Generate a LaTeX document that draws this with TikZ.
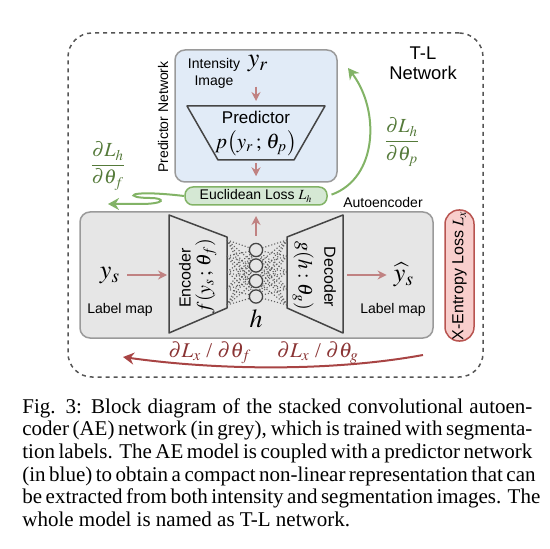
\documentclass[tikz,border=0pt]{standalone}
\usepackage{amsmath}
\usepackage{mathptmx}
\usepackage{fontspec}
\setmainfont{Liberation Serif}
\setsansfont{Liberation Sans}
\usetikzlibrary{arrows.meta, positioning}

\definecolor{predblue}{HTML}{E1EBF7}
\definecolor{aegrey}{HTML}{E6E6E6}
\definecolor{lossgreen}{HTML}{D5E8D4}
\definecolor{greenline}{HTML}{82B366}
\definecolor{gradgreen}{HTML}{557A3A}
\definecolor{xentred}{HTML}{F8CECC}
\definecolor{redline}{HTML}{B85450}
\definecolor{flowred}{HTML}{C08282}
\definecolor{backred}{HTML}{A84444}
\definecolor{gradred}{HTML}{8A3434}
\definecolor{boxline}{HTML}{9A9A9A}
\definecolor{trapline}{HTML}{454545}
\definecolor{wiregrey}{HTML}{5F5F5F}
\definecolor{dashgrey}{HTML}{555555}

\begin{document}
\begin{tikzpicture}[x=0.5pt,y=-0.5pt,
    lbl/.style={font=\sffamily\fontsize{7}{8.5}\selectfont, inner sep=0pt},
    sym/.style={font=\fontsize{13}{15}\selectfont, inner sep=0pt},
    fn/.style={font=\fontsize{10}{12}\selectfont, inner sep=0pt},
    block/.style={draw=boxline, line width=0.75pt, rounded corners=5pt, inner sep=0pt},
    coder/.style={draw=trapline, line width=0.75pt, line join=round},
    neuron/.style={circle, draw=trapline, line width=0.65pt, minimum size=6.6pt, inner sep=0pt},
    wire/.style={draw=wiregrey, densely dotted, line width=0.55pt},
    flow/.style={draw=flowred, line width=1pt, -{Stealth[length=4.5pt,width=4.5pt]}},
    grad/.style={draw=greenline, line width=1pt, -{Stealth[length=5.5pt,width=6pt]}},
    back/.style={draw=backred, line width=1pt, -{Stealth[length=5.5pt,width=6pt]}},
    capline/.style={anchor=base west, inner sep=0pt, font=\rmfamily\fontsize{10.5}{12}\selectfont}]
  \useasboundingbox (0,0) rectangle (549,549);

  % boxes
  \node[draw=dashgrey, dash pattern=on 2pt off 2pt, line width=0.75pt, rounded corners=12pt,
        minimum width=207.5pt, minimum height=172pt, inner sep=0pt] (tl_net) at (275.5,205) {};
  \node[block, fill=predblue, minimum width=81pt, minimum height=66pt] (pred_net) at (256,116) {};
  \node[block, draw=greenline, fill=lossgreen, rounded corners=4pt, minimum width=71pt, minimum height=9pt,
        font=\sffamily\fontsize{7}{8}\selectfont] (loss) at (256,196) {Euclidean Loss $L_h$};
  \node[block, fill=aegrey, minimum width=176.5pt, minimum height=63pt] (ae_net) at (256.5,275) {};
  \node[block, draw=redline, fill=xentred, rounded corners=7pt, rotate=90, minimum width=65.5pt, minimum height=14.5pt,
        font=\sffamily\fontsize{8}{9}\selectfont] (xent) at (459.5,275.5) {X-Entropy Loss $L_x$};

  \node[lbl, align=center, font=\sffamily\fontsize{9.2}{10}\selectfont] (tl_lbl) at (423,63) {T-L\\Network};
  \node[lbl, rotate=90] (pred_lbl) at (163,117) {Predictor Network};
  \node[lbl] (ae_lbl) at (383,202) {Autoencoder};

  % predictor
  \node[lbl, align=center] (int_lbl) at (214,73) {Intensity\\Image};
  \node[sym] (y_r) at (258,64) {$y_r$};
  \draw[coder] (187,106) coordinate (pred_tl) -- (325,106) -- (294,160) -- (218,160) -- cycle;
  \node[fn, font=\sffamily\fontsize{8.5}{10}\selectfont] (pred_txt) at (256,117) {Predictor};
  \node[fn, font=\fontsize{10.5}{12}\selectfont] (pred_fn) at (256,143) {$p\bigl(y_r\,;\,\theta_p\bigr)$};
  \coordinate (pred_in) at (256,101);
  \coordinate (pred_out) at (256,163);
  \draw[flow] (y_r.south -| pred_in) ++(0,14) -- (pred_in);
  \draw[flow, shorten >=5pt] (pred_out) -- (pred_out |- loss.north);

  % autoencoder
  \draw[coder] (169,215) -- (227,237) -- (227,308) -- (169,333) -- cycle;
  \draw[coder] (343,215) -- (287,237) -- (287,308) -- (343,333) -- cycle;
  \node[lbl, rotate=90, font=\sffamily\fontsize{8}{9}\selectfont] (enc_txt) at (185,278) {Encoder};
  \node[fn, rotate=90] (enc_fn) at (206,276) {$f(y_s\,;\,\theta_f)$};
  \node[fn, rotate=-90] (dec_fn) at (303,276) {$g(h:\theta_g)$};
  \node[lbl, rotate=-90, font=\sffamily\fontsize{8}{9}\selectfont] (dec_txt) at (330,277) {Decoder};

  \foreach \i/\yy in {1/250,2/265.5,3/281,4/296.5}
    \node[neuron] (n\i) at (256,\yy) {};
  \foreach \k/\yy in {1/240,2/256,3/272,4/289,5/305} {
    \coordinate (e\k) at (227,\yy);
    \coordinate (d\k) at (287,\yy);
    \foreach \i in {1,...,4} {
      \draw[wire] (e\k) -- (n\i);
      \draw[wire] (d\k) -- (n\i);
    }
  }
  \node[sym] (h_lbl) at (256,319) {$h$};
  \coordinate (h_up) at (256,216);
  \draw[flow, shorten <=3.5pt] (n1.north) -- (h_up);

  \node[sym] (y_s) at (110,276) {$y_s$};
  \node[lbl] (ys_lbl) at (120,310) {Label map};
  \node[sym] (yhat_s) at (404,275) {$\widehat{y}_s$};
  \node[lbl] (yhat_lbl) at (393,310) {Label map};
  \coordinate (enc_in) at (167,275);
  \coordinate (dec_out) at (347,275);
  \draw[flow, shorten <=3.5pt] (y_s.east |- enc_in) -- (enc_in);
  \draw[flow, shorten >=3.5pt] (dec_out) -- (yhat_s.west |- dec_out);

  % gradients
  \coordinate (dp_tip) at (348,68);
  \coordinate (df_tip) at (108,204);
  \draw[grad, shorten <=2pt] (loss.east) .. controls (378,178) and (380,110) .. (dp_tip);
  \draw[grad] (loss.west) .. controls (124,189) and (124,198) .. (150,198)
              .. controls (166,198) and (166,204) .. (140,204) -- (df_tip);
  \node[text=gradgreen, font=\fontsize{10}{12}\selectfont] (dLp) at (402,142) {$\dfrac{\partial L_h}{\partial\theta_p}$};
  \node[text=gradgreen, font=\fontsize{10}{12}\selectfont] (dLf) at (108,166) {$\dfrac{\partial L_h}{\partial\theta_f}$};

  \coordinate (bp_start) at (423,355);
  \coordinate (bp_tip) at (123,357);
  \draw[back] (bp_start) .. controls (330,372) and (215,370) .. (bp_tip);
  \node[text=gradred, font=\fontsize{10.5}{12}\selectfont] (dLx_f) at (210,353) {$\partial L_x$ / $\partial\theta_f$};
  \node[text=gradred, font=\fontsize{10.5}{12}\selectfont] (dLx_g) at (318,353) {$\partial L_x$ / $\partial\theta_g$};

  % caption
  \node[capline] (cap1) at (22,413) {\makebox[255pt][s]{Fig. 3: Block diagram of the stacked convolutional autoen-}};
  \node[capline] (cap2) at (22,435.7) {\makebox[255pt][s]{coder (AE) network (in grey), which is trained with segmenta-}};
  \node[capline] (cap3) at (22,458.4) {\makebox[255pt][s]{tion labels. The AE model is coupled with a predictor network}};
  \node[capline] (cap4) at (22,481.1) {\makebox[255pt][s]{(in blue) to obtain a compact non-linear representation that can}};
  \node[capline] (cap5) at (22,503.8) {\makebox[255pt][s]{be extracted from both intensity and segmentation images. The}};
  \node[capline] (cap6) at (22,526.5) {whole model is named as T-L network.};
\end{tikzpicture}
\end{document}
